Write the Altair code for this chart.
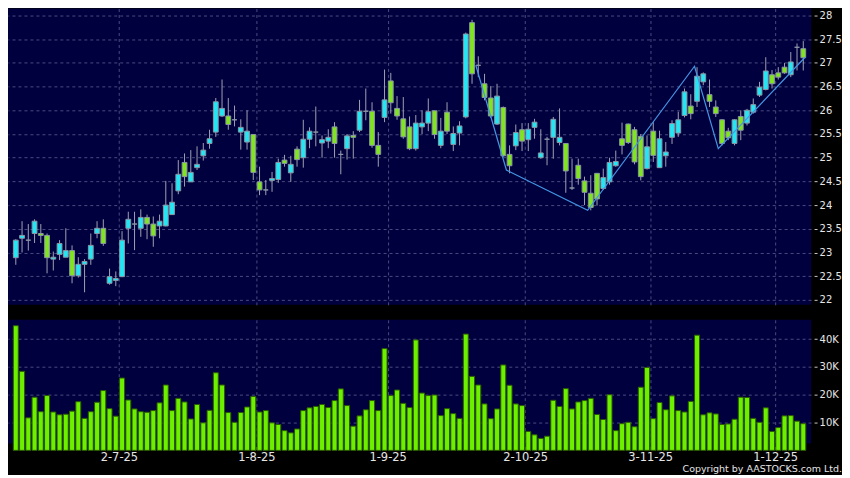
import altair as alt
import numpy as np
import pandas as pd

# ---------------- data ----------------
month_days = [
    ("2025-06", [6, 9, 10, 11, 12, 13, 16, 17, 18, 19, 20, 23, 24, 25, 26, 27, 30]),
    ("2025-07", [2, 3, 4, 7, 8, 9, 10, 11, 14, 15, 16, 17, 18, 21, 22, 23, 24, 25, 28, 29, 30, 31]),
    ("2025-08", [1, 4, 5, 6, 7, 8, 11, 12, 13, 14, 15, 18, 19, 20, 21, 22, 25, 26, 27, 28, 29]),
    ("2025-09", [1, 2, 3, 4, 5, 8, 9, 10, 11, 12, 15, 16, 17, 18, 19, 22, 23, 24, 25, 26, 29, 30]),
    ("2025-10", [2, 3, 6, 8, 9, 10, 13, 14, 15, 16, 17, 20, 21, 22, 23, 24, 27, 28, 30, 31]),
    ("2025-11", [3, 4, 5, 6, 7, 10, 11, 12, 13, 14, 17, 18, 19, 20, 21, 24, 25, 26, 27, 28]),
    ("2025-12", [1, 2, 3, 4, 5]),
]
dates = [f"{m}-{d:02d}" for m, days in month_days for d in days]

opens = [
    22.89, 23.30, 23.26, 23.40, 23.40, 23.36, 22.86, 22.96, 22.90, 23.04,
    22.51, 22.75, 22.86, 23.40, 23.51, 22.35, 22.41, 22.49, 23.51, 23.60,
    23.51, 23.74, 23.60, 23.56, 23.56, 23.80, 24.30, 24.90, 24.49, 24.79,
    25.04, 25.30, 25.54, 25.88, 25.88, 25.80, 25.54, 25.33, 25.49, 24.49,
    24.32, 24.52, 24.54, 24.95, 24.68, 25.18, 25.00, 25.39, 25.54, 25.31,
    25.35, 25.65, 25.07, 25.19, 25.47, 25.58, 25.98, 25.98, 25.26, 25.85,
    26.62, 26.04, 25.82, 25.65, 25.19, 25.65, 25.73, 25.99, 25.26, 25.96,
    25.28, 25.52, 25.86, 27.85, 26.95, 26.56, 26.26, 25.71, 26.06, 25.07,
    25.25, 25.59, 25.38, 25.64, 25.00, 25.39, 25.43, 25.32, 25.30, 24.36,
    24.84, 24.51, 24.25, 24.67, 24.35, 24.49, 24.83, 25.40, 25.71, 25.59,
    25.45, 24.77, 25.56, 24.79, 25.04, 25.43, 25.52, 25.89, 26.09, 26.19,
    26.60, 26.33, 26.07, 25.80, 25.56, 25.30, 25.87, 25.73, 25.96, 26.32,
    26.44, 26.75, 26.79, 26.91, 26.75, 27.33, 27.30,
]
closes = [
    23.26, 23.36, 23.26, 23.66, 23.36, 22.89, 22.90, 23.19, 23.04, 22.51,
    22.75, 22.81, 23.15, 23.51, 23.19, 22.49, 22.45, 23.26, 23.70, 23.60,
    23.74, 23.60, 23.35, 23.66, 24.00, 24.06, 24.65, 24.60, 24.69, 24.86,
    25.16, 25.40, 26.18, 26.04, 25.70, 25.80, 25.64, 25.56, 24.69, 24.32,
    24.32, 24.56, 24.90, 24.88, 24.86, 24.96, 25.39, 25.56, 25.54, 25.38,
    25.43, 25.30, 25.07, 25.46, 25.43, 25.98, 25.98, 25.26, 25.07, 26.22,
    26.16, 25.88, 25.44, 25.19, 25.73, 25.73, 25.97, 25.49, 25.56, 25.56,
    25.51, 25.67, 27.61, 26.77, 26.95, 26.27, 25.88, 26.30, 25.04, 24.83,
    25.53, 25.35, 25.60, 25.75, 25.10, 25.39, 25.81, 25.43, 24.72, 24.36,
    24.56, 24.27, 23.95, 24.13, 24.58, 24.90, 24.92, 25.26, 25.32, 24.91,
    24.60, 25.23, 25.05, 25.40, 25.12, 25.72, 25.80, 26.39, 25.93, 26.72,
    26.77, 26.19, 25.93, 25.30, 25.42, 25.80, 25.58, 26.00, 26.12, 26.49,
    26.83, 26.56, 26.70, 26.79, 27.02, 27.33, 27.11,
]
highs = [
    23.28, 23.66, 23.60, 23.70, 23.60, 23.40, 23.02, 23.26, 23.51, 23.15,
    22.90, 22.86, 23.40, 23.66, 23.70, 22.66, 22.60, 23.45, 23.86, 23.86,
    23.91, 23.80, 23.76, 23.80, 24.51, 24.46, 24.95, 25.09, 25.16, 25.24,
    25.31, 25.59, 26.26, 26.65, 26.26, 26.10, 25.81, 26.00, 25.49, 24.81,
    24.53, 24.70, 24.98, 25.06, 25.04, 25.24, 25.80, 25.64, 26.08, 25.47,
    25.60, 25.75, 25.15, 25.50, 25.56, 26.22, 26.46, 26.17, 25.54, 26.86,
    26.79, 26.30, 26.28, 25.87, 25.90, 26.00, 26.25, 25.99, 25.84, 26.17,
    25.66, 25.77, 27.64, 27.91, 27.14, 26.77, 26.51, 26.56, 26.08, 25.26,
    25.70, 25.73, 25.73, 25.82, 25.60, 25.44, 25.86, 26.04, 25.30, 24.98,
    24.98, 24.60, 24.63, 24.67, 24.77, 25.00, 25.15, 25.74, 25.72, 25.65,
    25.50, 25.47, 25.75, 25.57, 25.33, 25.79, 25.97, 26.46, 26.34, 26.91,
    26.80, 26.65, 26.21, 25.81, 25.63, 25.81, 26.00, 26.03, 26.25, 26.60,
    27.12, 26.85, 26.91, 27.00, 27.23, 27.41, 27.46,
]
lows = [
    22.74, 23.00, 23.04, 23.20, 23.20, 22.56, 22.62, 22.84, 22.90, 22.35,
    22.47, 22.16, 22.74, 23.30, 23.14, 22.32, 22.29, 22.48, 23.19, 23.05,
    23.33, 23.28, 23.12, 23.30, 23.55, 23.79, 24.23, 24.39, 24.49, 24.74,
    24.94, 25.19, 25.44, 25.86, 25.59, 25.66, 25.17, 25.17, 24.53, 24.21,
    24.21, 24.28, 24.47, 24.81, 24.49, 24.81, 24.79, 25.20, 25.24, 25.00,
    25.20, 25.00, 24.65, 24.96, 24.98, 25.54, 25.79, 25.21, 24.81, 25.75,
    25.93, 25.80, 25.40, 25.16, 25.15, 25.50, 25.56, 25.40, 25.20, 25.50,
    25.14, 25.26, 25.83, 26.56, 26.70, 26.21, 25.84, 25.69, 25.02, 24.67,
    25.16, 25.14, 25.14, 25.40, 24.98, 24.84, 24.98, 25.26, 24.26, 24.32,
    24.43, 24.00, 23.89, 23.99, 24.32, 24.43, 24.81, 25.07, 25.29, 24.86,
    24.52, 24.75, 24.91, 24.79, 24.81, 25.29, 25.44, 25.85, 25.81, 26.07,
    26.53, 26.07, 25.86, 25.26, 25.37, 25.26, 25.37, 25.68, 25.93, 26.28,
    26.42, 26.46, 26.65, 26.77, 26.70, 26.84, 26.84,
]
# volume in thousands of shares
volumes_k = [
    44.8, 28.4, 11.7, 19.1, 13.9, 19.7, 13.8, 12.8, 13.0, 14.1,
    17.5, 11.5, 13.9, 17.3, 21.5, 15.0, 12.3, 26.0, 18.1, 14.9,
    13.9, 13.7, 14.3, 17.1, 23.5, 14.3, 18.7, 17.4, 11.3, 16.5,
    9.9, 14.4, 27.9, 23.5, 13.6, 10.1, 13.6, 15.6, 19.4, 13.8,
    14.3, 9.9, 9.3, 7.1, 6.3, 7.7, 14.3, 15.3, 15.8, 16.5,
    15.4, 17.9, 22.1, 16.1, 8.7, 12.4, 14.6, 17.9, 14.3, 36.6,
    19.7, 21.7, 16.9, 15.4, 39.7, 20.6,
    19.7, 19.9, 12.5, 15.0, 13.2, 11.5, 41.8, 26.6, 23.5, 16.7,
    11.4, 14.9, 30.7, 23.4, 16.7, 16.1, 6.8, 5.6, 4.3, 5.1,
    18.0, 15.8, 22.2, 14.9, 17.4, 17.9, 18.7, 12.9, 11.1, 20.0,
    7.1, 9.6, 10.1, 8.5, 22.7, 29.8, 11.4, 17.2, 14.6, 19.6,
    14.3, 13.8, 17.6, 41.4, 12.8, 13.5, 13.1, 9.3, 9.5, 11.2,
    19.1, 19.0, 11.5, 10.1, 15.3, 6.8, 8.2, 12.4, 12.5, 10.5, 9.6,
]

# zig-zag overlay: (bar position, price)
zigzag_pos = [73.6, 78.5, 91.5, 108.6, 112.4, 126.3]
zigzag_price = [26.95, 24.74, 23.89, 26.93, 25.19, 27.12]

tick_dates = ["2025-07-02", "2025-08-01", "2025-09-01", "2025-10-02", "2025-11-03", "2025-12-01"]
tick_labels = ["2-7-25", "1-8-25", "1-9-25", "2-10-25", "3-11-25", "1-12-25"]
price_ticks = [22, 22.5, 23, 23.5, 24, 24.5, 25, 25.5, 26, 26.5, 27, 27.5, 28]
volume_ticks_k = [10, 20, 30, 40]
copyright_text = "Copyright by AASTOCKS.com Ltd."

# ---------------- frames ----------------
n = len(dates)
df = pd.DataFrame({
    "idx": np.arange(n), "date": dates,
    "open": opens, "high": highs, "low": lows, "close": closes, "vol": volumes_k,
})
df["dir"] = np.where(df["close"] > df["open"], "up",
                     np.where(df["close"] < df["open"], "down", "flat"))
zz = pd.DataFrame({"pos": zigzag_pos, "price": zigzag_price})
tick_pos = [dates.index(d) - 0.5 for d in tick_dates]
label_expr = ("[" + ",".join(f"'{t}'" for t in tick_labels) + "][indexof(["
              + ",".join(str(p) for p in tick_pos) + "], datum.value)]")

# ---------------- style ----------------
W, H1, H2 = 805, 297, 124
BG = "#000000"
PANEL = "#00003e"
GRID = "#4a4a82"
UP = "#22e6f4"
DOWN = "#80e41e"
FLAT = "#a8a8b0"
BODY_STROKE = "#8a96a4"
WICK = "#a0a0b2"
VFILL = "#6cf000"
VSTROKE = "#2a5a00"
ZZ = "#4496e4"
TXT = "#e6e6e6"
FONT = "DejaVu Sans"

xs = alt.Scale(domain=[-0.45, n - 0.55], nice=False, zero=False)
grid_kw = dict(grid=True, gridColor=GRID, gridDash=[3, 3], gridWidth=1, gridOpacity=1)

x_top_axis = alt.Axis(values=tick_pos, labels=False, ticks=False, domain=False, title=None, **grid_kw)
y_price_scale = alt.Scale(domain=[21.895, 28.147], nice=False, zero=False)
y_price_axis = alt.Axis(orient="right", values=price_ticks, format="~f", title=None, domain=False,
                        tickSize=3, offset=3, labelPadding=2, labelFontSize=10, **grid_kw)

wick = alt.Chart(df).mark_rule(color=WICK, strokeWidth=1).encode(
    x=alt.X("idx:Q", scale=xs, axis=x_top_axis),
    y=alt.Y("low:Q", scale=y_price_scale, axis=y_price_axis),
    y2="high:Q",
)
body = alt.Chart(df).mark_bar(size=4.8, stroke=BODY_STROKE, strokeWidth=1).encode(
    x=alt.X("idx:Q", scale=xs, axis=x_top_axis),
    y=alt.Y("open:Q", scale=y_price_scale, axis=y_price_axis),
    y2="close:Q",
    fill=alt.Fill("dir:N", scale=alt.Scale(domain=["up", "down", "flat"], range=[UP, DOWN, FLAT]),
                  legend=None),
)
zig = alt.Chart(zz).mark_line(color=ZZ, strokeWidth=1.2).encode(
    x=alt.X("pos:Q", scale=xs, axis=x_top_axis),
    y=alt.Y("price:Q", scale=y_price_scale, axis=y_price_axis),
)
top = alt.layer(wick, body, zig).properties(width=W, height=H1)

x_vol_axis = alt.Axis(values=tick_pos, labelExpr=label_expr, title=None, domain=False,
                      tickSize=3, offset=3, labelPadding=2, labelFontSize=11.5, **grid_kw)
y_vol_scale = alt.Scale(domain=[2.47, 46.92], nice=False, zero=False)
y_vol_axis = alt.Axis(orient="right", values=volume_ticks_k, labelExpr="datum.value + 'K'",
                      title=None, domain=False, tickSize=3, offset=3, labelPadding=2,
                      labelFontSize=10, **grid_kw)

vbars = alt.Chart(df).mark_bar(size=5.0, fill=VFILL, stroke=VSTROKE, strokeWidth=1).encode(
    x=alt.X("idx:Q", scale=xs, axis=x_vol_axis),
    y=alt.Y("vol:Q", scale=y_vol_scale, axis=y_vol_axis),
    y2=alt.value(H2),
)
ctext = alt.Chart(pd.DataFrame({"t": [copyright_text]})).mark_text(
    align="right", baseline="alphabetic", font=FONT, fontSize=9.5, color=TXT
).encode(x=alt.value(836), y=alt.value(153), text="t:N")

vol = alt.layer(vbars, ctext).properties(width=W, height=H2)

chart = (
    alt.vconcat(top, vol, spacing=14)
    .properties(padding=0, background=BG)
    .configure_view(fill=PANEL, stroke=None)
    .configure_axis(labelFont=FONT, labelColor=TXT, tickColor="#c8c8c8", domain=False)
)

chart.save("out.html", embed_options={"renderer": "svg", "actions": False})
